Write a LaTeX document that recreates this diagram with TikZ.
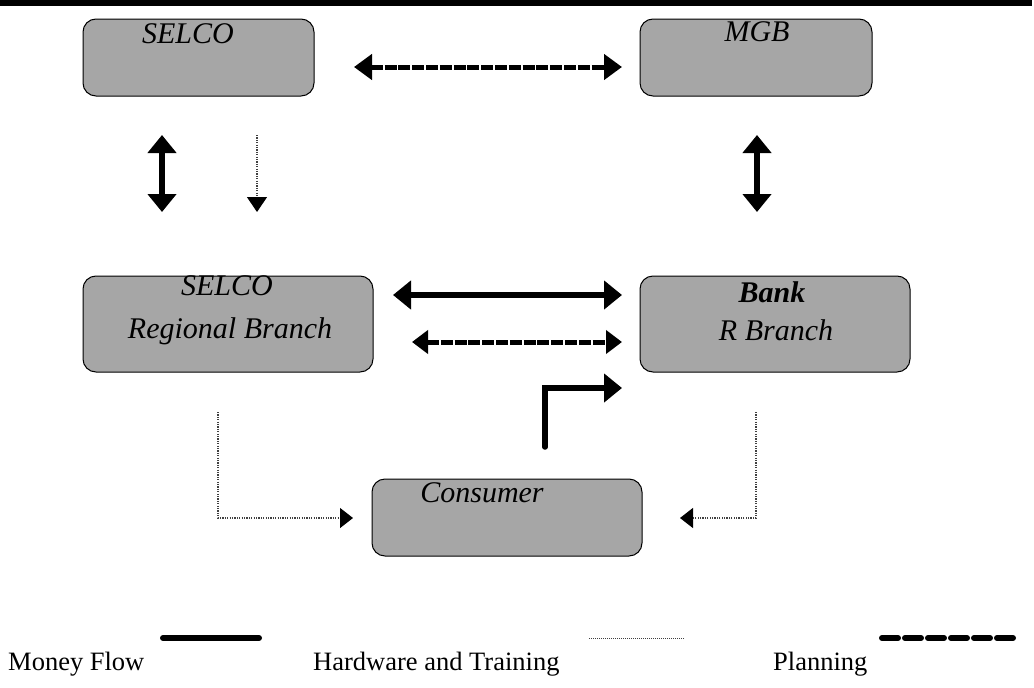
\documentclass[tikz,border=0pt]{standalone}
\usepackage{fontspec}
\setmainfont{Liberation Serif}
\usetikzlibrary{arrows.meta,calc}
\definecolor{boxgray}{RGB}{166,166,166}
\tikzset{
  box/.style={draw=black, line width=1pt, fill=boxgray, rounded corners=13pt, inner sep=0pt},
  boxtext/.style={anchor=base, inner sep=0pt, font=\fontsize{30}{32}\selectfont\itshape},
  legtext/.style={anchor=base west, inner sep=0pt, font=\fontsize{26.5}{28}\selectfont},
  money/.style={line width=5.5pt},
  plan/.style={line width=5pt, dash pattern=on 12pt off 1.8pt},
  hw/.style={line width=1.2pt, black!75, dash pattern=on 1.2pt off 1.2pt},
  bigtip/.style={arrows={Triangle[length=18pt,width=28pt]-Triangle[length=18pt,width=28pt]}},
  smalltip/.style={-{Triangle[length=15pt,width=20pt,color=black]}},
}
\begin{document}
\begin{tikzpicture}[x=1pt,y=-1pt]
\useasboundingbox (0,0) rectangle (1034,688);
% top rule
\coordinate (r1) at (0,3);
\coordinate (r2) at (1032,3);
\draw[line width=6pt] (r1) -- (r2);

% boxes
\node[box, minimum width=231pt, minimum height=77pt] (selco) at (198.5,57.5) {};
\node[box, minimum width=232pt, minimum height=77pt] (mgb) at (756,57.5) {};
\node[box, minimum width=290pt, minimum height=96pt] (region) at (228,324) {};
\node[box, minimum width=270pt, minimum height=96pt] (bank) at (775,324) {};
\node[box, minimum width=270pt, minimum height=77pt] (consumer) at (507,517.5) {};

% box texts
\node[boxtext] (tselco) at (188,43) {SELCO};
\node[boxtext] (tmgb) at (757,41) {MGB};
\node[boxtext] (tregion1) at (227,295) {SELCO};
\node[boxtext] (tregion2) at (230,338) {Regional Branch};
\node[boxtext, font=\fontsize{30}{32}\selectfont\bfseries\itshape] (tbank1) at (772,302) {Bank};
\node[boxtext] (tbank2) at (776,340) {R Branch};
\node[boxtext] (tcons) at (482,502) {Consumer};

% connector end points
\coordinate (a1) at (354,67);   \coordinate (a2) at (622,67);
\coordinate (b1) at (162,135);  \coordinate (b2) at (162,212);
\coordinate (c1) at (257,135);  \coordinate (c2) at (257,212);
\coordinate (d1) at (757,135);  \coordinate (d2) at (757,212);
\coordinate (e1) at (393,295);  \coordinate (e2) at (622,295);
\coordinate (f1) at (412,342);  \coordinate (f2) at (622,342);
\coordinate (g1) at (545,447);  \coordinate (g2) at (622,388);
\coordinate (h1) at (218,412);  \coordinate (h2) at (353,518);
\coordinate (i1) at (756,412);  \coordinate (i2) at (680,518);

% connectors
\draw[plan, arrows={Triangle[length=18pt,width=25pt]-Triangle[length=18pt,width=25pt]}] (a1) -- (a2);
\draw[money, bigtip] (b1) -- (b2);
\draw[hw, smalltip] (c1) -- (c2);
\draw[money, bigtip] (d1) -- (d2);
\draw[money, bigtip] (e1) -- (e2);
\draw[plan, arrows={Triangle[length=16pt,width=23pt]-Triangle[length=16pt,width=23pt]}] (f1) -- (f2);
\draw[money, line cap=round, -{Triangle[length=18pt,width=28pt]}] (g1) |- (g2);
\draw[hw, -{Triangle[length=13pt,width=20pt,color=black]}] (h1) |- (h2);
\draw[hw, -{Triangle[length=13pt,width=20pt,color=black]}] (i1) |- (i2);

% legend
\coordinate (l1) at (163,638); \coordinate (l2) at (259,638);
\coordinate (m1) at (589,638); \coordinate (m2) at (685,638);
\coordinate (n1) at (882,638); \coordinate (n2) at (1017,638);
\draw[line width=6pt, line cap=round] (l1) -- (l2);
\draw[line width=1pt, black!75, dash pattern=on 1pt off 1pt] (m1) -- (m2);
\draw[line width=6pt, line cap=round, dash pattern=on 16pt off 7pt] (n1) -- (n2);
\node[legtext] (lmoney) at (8,670) {Money Flow};
\node[legtext] (lhw) at (313,670) {Hardware and Training};
\node[legtext] (lplan) at (773,670) {Planning};
\end{tikzpicture}
\end{document}
